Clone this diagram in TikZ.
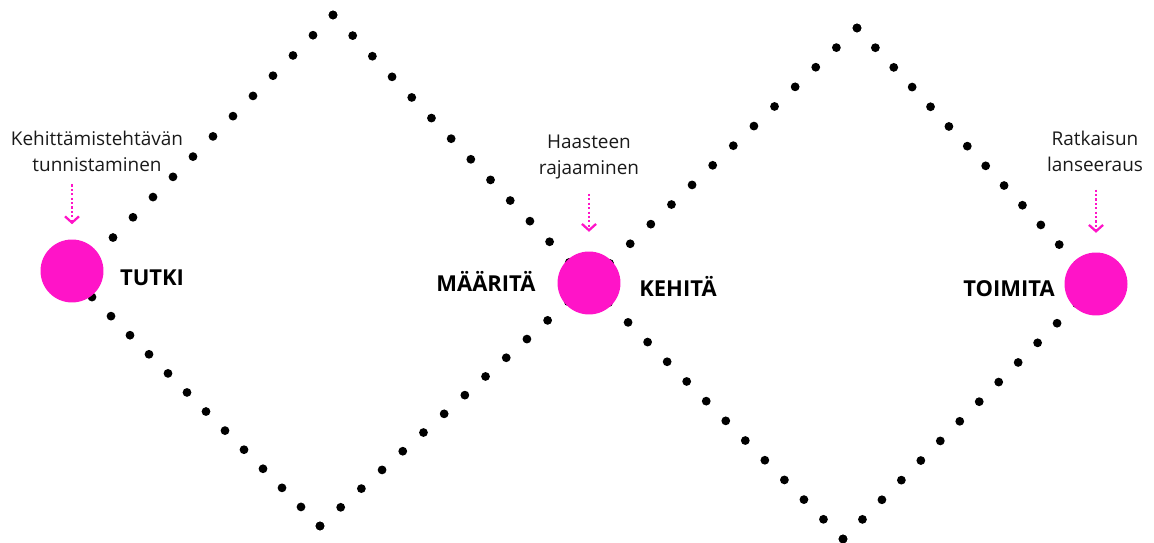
\documentclass[tikz,border=0pt]{standalone}
\usepackage{fontspec}
\setmainfont{Open Sans}
\usetikzlibrary{arrows.meta,calc}
\definecolor{dpink}{HTML}{FF14C8}
\definecolor{dink}{HTML}{1A1A1A}
\tikzset{
  hub/.style={circle,fill=dpink,minimum size=1.26cm,inner sep=0pt},
  phase/.style={font=\bfseries\fontsize{12.5}{15}\selectfont,anchor=base,text=black},
  note/.style={font=\fontsize{10.8}{14.7}\selectfont,align=center,text=dink},
  parr/.style={-{Straight Barb[length=3.6pt,width=8pt]},line width=1.3pt,draw=dpink,dash pattern=on 1.2pt off 1.3pt},
}
\begin{document}
\begin{tikzpicture}[x=0.02cm,y=-0.02cm]
  \useasboundingbox (0,0) rectangle (1154,543);
  % diamond corners
  \coordinate (l1) at (73,278);
  \coordinate (t1) at (333,15);
  \coordinate (m)  at (589,283);
  \coordinate (b1) at (320,526);
  \coordinate (t2) at (857,28);
  \coordinate (r)  at (1096,284);
  \coordinate (b2) at (843,539);
  \foreach \a/\b in {l1/t1,t1/m,m/b1,b1/l1,m/t2,t2/r,r/b2,b2/m}
    \foreach \i in {0,...,13}
      \fill ($(\a)!\i/13!(\b)$) circle (2.5pt);
  % hubs
  \node[hub] (h1) at (72,271) {};
  \node[hub] (h2) at (589,283) {};
  \node[hub] (h3) at (1096,284) {};
  \node[phase] (tutki) at (152,286) {TUTKI};
  \node[phase] (maarita) at (486,292) {MÄÄRITÄ};
  \node[phase] (kehita) at (678,297) {KEHITÄ};
  \node[phase] (toimita) at (1009,297) {TOIMITA};
  % notes
  \node[note] (n1) at (97,151) {Kehittämistehtävän\\tunnistaminen};
  \node[note] (n2) at (589,157) {Haasteen\\rajaaminen};
  \node[note] (n3) at (1095,151) {Ratkaisun\\lanseeraus};
  \draw[parr,shorten <=4pt,shorten >=8.5pt] (n1.south -| h1) -- (h1.north);
  \draw[parr,shorten <=5pt,shorten >=11pt] (n2.south -| h2) -- (h2.north);
  \draw[parr,shorten <=7pt,shorten >=11pt] (n3.south -| h3) -- (h3.north);
\end{tikzpicture}
\end{document}
